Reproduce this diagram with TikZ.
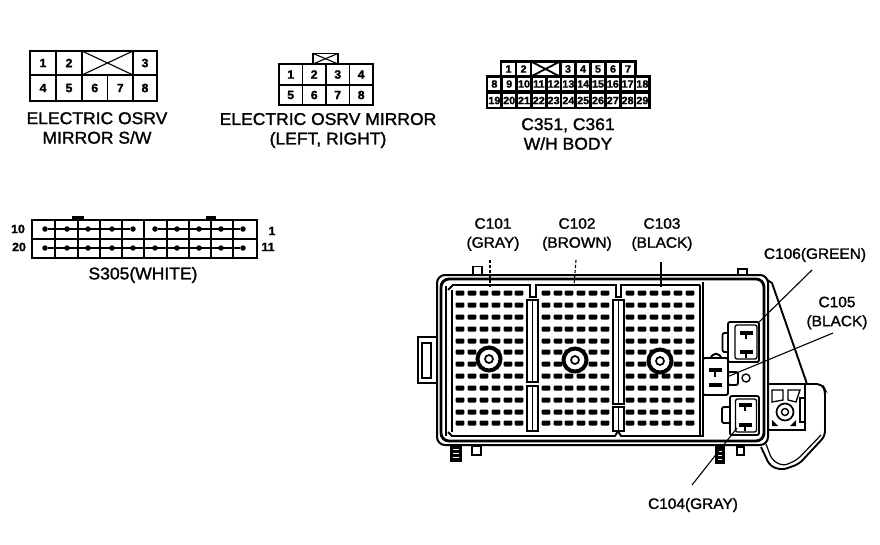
\documentclass[tikz,border=0pt]{standalone}
\usepackage{fontspec}
\setmainfont{Liberation Sans}[FakeStretch=1.03,FakeBold=1.4]
\usetikzlibrary{positioning, calc}
\tikzstyle{pincell} = [rectangle, draw=black, line width=1.8pt, outer sep=0pt, inner sep=0pt, minimum width=26pt, minimum height=24pt, font=\fontsize{12}{12}\selectfont\bfseries]
\tikzstyle{wirecell} = [rectangle, draw=black, line width=2.7pt, outer sep=0pt, inner sep=0pt, minimum width=14.8pt, minimum height=15pt, font=\fontsize{10.5}{10.5}\selectfont\bfseries]
\tikzstyle{caption} = [align=center, font=\fontsize{17}{19.5}\selectfont]
\tikzstyle{tag} = [align=center, font=\fontsize{15}{19}\selectfont]
\tikzstyle{pinno} = [inner sep=0pt, font=\fontsize{12}{12}\selectfont\bfseries]
\tikzstyle{pinmark} = [rectangle, rounded corners=1pt, fill=black, inner sep=0pt, minimum width=8.6pt, minimum height=5pt]
\tikzstyle{dot} = [circle, fill=black, inner sep=0pt, minimum size=5.5pt]
\tikzstyle{shell} = [rectangle, rounded corners=2pt, draw=black, line width=1.9pt, fill=white, inner sep=0pt, outer sep=0pt]
\tikzstyle{blade} = [rectangle, fill=black, inner sep=0pt, minimum width=13pt, minimum height=4pt]
\tikzstyle{stem} = [rectangle, fill=black, inner sep=0pt, minimum width=2pt, minimum height=8pt]
\tikzstyle{leader} = [line width=1.1pt]
\tikzstyle{wall} = [line width=2pt, rounded corners=8pt]
\tikzstyle{divider} = [draw=black, line width=1.9pt, fill=white]
\tikzstyle{tabbox} = [draw=black, line width=1.9pt, fill=white]
\begin{document}
\begin{tikzpicture}[x=1pt, y=-1pt]
    \useasboundingbox (0,0) rectangle (880,544);

    % Mirror switch connector
    \node[pincell] (sw1) at (43,63) {1};
    \node[pincell, right=0pt of sw1] (sw2) {2};
    \node[pincell, right=0pt of sw2, minimum width=51pt] (swx) {};
    \node[pincell, right=0pt of swx, minimum width=24pt] (sw3) {3};
    \node[pincell, below=0pt of sw1, minimum height=26pt] (sw4) {4};
    \node[pincell, right=0pt of sw4, minimum height=26pt] (sw5) {5};
    \node[pincell, right=0pt of sw5, minimum height=26pt, minimum width=25.5pt] (sw6) {6};
    \node[pincell, right=0pt of sw6, minimum height=26pt, minimum width=25.5pt] (sw7) {7};
    \node[pincell, right=0pt of sw7, minimum height=26pt, minimum width=24pt] (sw8) {8};
    \draw[leader] (swx.north west) -- (swx.south east);
    \draw[leader] (swx.north east) -- (swx.south west);
    \node[caption] (swlabel) at (97,128) {ELECTRIC OSRV\\MIRROR S/W};

    % Mirror connector
    \node[pincell, minimum width=23.5pt, minimum height=21pt] (mr1) at (290.7,74.5) {1};
    \node[pincell, right=0pt of mr1, minimum width=23.5pt, minimum height=21pt] (mr2) {2};
    \node[pincell, right=0pt of mr2, minimum width=23.5pt, minimum height=21pt] (mr3) {3};
    \node[pincell, right=0pt of mr3, minimum width=23.5pt, minimum height=21pt] (mr4) {4};
    \node[pincell, below=0pt of mr1, minimum width=23.5pt, minimum height=20pt] (mr5) {5};
    \node[pincell, right=0pt of mr5, minimum width=23.5pt, minimum height=20pt] (mr6) {6};
    \node[pincell, right=0pt of mr6, minimum width=23.5pt, minimum height=20pt] (mr7) {7};
    \node[pincell, right=0pt of mr7, minimum width=23.5pt, minimum height=20pt] (mr8) {8};
    \node[pincell, minimum width=25pt, minimum height=10.5pt] (mrtab) at (325.5,58.7) {};
    \draw[leader] (mrtab.north west) -- (mrtab.south east);
    \draw[leader] (mrtab.north east) -- (mrtab.south west);
    \node[caption] (mrlabel) at (328,130.5) {ELECTRIC OSRV MIRROR\\(LEFT, RIGHT)};

    % Wiring harness body connector
    \foreach \n [count=\i from 0] in {1,2} {
        \node[wirecell] (w\n) at ({508.5+\i*15},69) {\n};
    }
    \node[wirecell, minimum width=29pt] (wx) at (545.5,69) {};
    \draw[line width=1.8pt] (wx.north west) -- (wx.south east);
    \draw[line width=1.8pt] (wx.north east) -- (wx.south west);
    \foreach \n [count=\i from 0] in {3,4,5,6,7} {
        \node[wirecell] (w\n) at ({568+\i*15},69) {\n};
    }
    \foreach \n [count=\i from 0] in {8,...,18} {
        \node[wirecell] (w\n) at ({494.4+\i*14.8},84) {\n};
    }
    \foreach \n [count=\i from 0] in {19,...,29} {
        \node[wirecell] (w\n) at ({494.4+\i*14.8},100.5) {\n};
    }
    \node[caption] (wlabel) at (568,134) {C351, C361\\W/H BODY};

    % S305 connector
    \node[tabbox, fill=black, minimum width=10pt, minimum height=3pt, inner sep=0pt] (stab1) at (78,218) {};
    \node[tabbox, fill=black, minimum width=8pt, minimum height=3pt, inner sep=0pt] (stab2) at (211,218) {};
    \node[rectangle, draw=black, line width=2.4pt, minimum width=225pt, minimum height=38pt, outer sep=0pt] (s305) at (144.5,239) {};
    \draw[line width=2.2pt] (s305.west) -- (s305.east);
    \foreach \x in {55,78,100,122,167,189,211,233} {
        \draw[leader] (\x,220) -- (\x,258);
    }
    \draw[line width=2.2pt] (144,220) -- (144,258);
    \foreach \x in {45,67,88,112,133} {
        \node[dot] (st\x) at (\x,229) {};
    }
    \foreach \x in {155,177,199,221,243} {
        \node[dot] (st\x) at (\x,229) {};
    }
    \foreach \x in {45,67,88,112,133,155,177,199,221,243} {
        \node[dot] (sb\x) at (\x,248) {};
    }
    \draw[leader] (st45) -- (st133);
    \draw[leader] (st155) -- (st243);
    \draw[leader] (sb45) -- (sb243);
    \node[pinno] (s10) at (18,229) {10};
    \node[pinno] (s20) at (19,247) {20};
    \node[pinno] (s1) at (272,231) {1};
    \node[pinno] (s11) at (268,247) {11};
    \node[caption] (slabel) at (143,275) {S305(WHITE)};

    % Tabs round the box
    \node[tabbox, minimum width=19pt, minimum height=46pt, outer sep=0pt] (ltab) at (427.5,360) {};
    \draw[line width=1.4pt] (422,343) rectangle (431,378);
    \node[tabbox, minimum width=9pt, minimum height=9pt, inner sep=0pt] (ttab1) at (477.5,271) {};
    \node[tabbox, minimum width=9pt, minimum height=10pt, inner sep=0pt] (ttab2) at (742.5,274) {};
    \node[tabbox, fill=black, minimum width=10pt, minimum height=16pt, inner sep=0pt] (btab1) at (456,453) {};
    \node[tabbox, minimum width=9pt, minimum height=9pt, inner sep=0pt] (btab2) at (476.5,450.5) {};
    \node[tabbox, fill=black, minimum width=8pt, minimum height=16pt, inner sep=0pt] (btab3) at (720,455) {};
    \node[tabbox, minimum width=7pt, minimum height=8pt, inner sep=0pt] (btab4) at (740.5,451) {};
    \foreach \sy in {449,453,457} {
        \draw[white, line width=0.9pt] (453,\sy) -- (459,\sy);
        \draw[white, line width=0.9pt] (718,{\sy+2}) -- (722,{\sy+2});
    }

    % Bracket on the right
    \draw[wall, rounded corners=5pt, line width=1.9pt] (768,384) -- (822,384) -- (825,390) -- (825,436) -- (799,464) -- (782,470) -- (770,466) -- (761,447);
    \draw[wall, rounded corners=5pt, line width=1.2pt] (766,444) -- (772,460) -- (783,466) -- (797,460) -- (821,435);
    \draw[line width=1.9pt] (764,278) -- (772,283) -- (807,384);
    \draw[line width=1.9pt] (768,430) -- (805,430) -- (805,385);
    \draw[line width=1.4pt] (800,398) rectangle (805,422);
    \draw[line width=1.3pt] (772,390) -- (783,390) -- (783,400) -- (772,402) -- cycle;
    \draw[line width=1.3pt] (788,390) -- (800,390) -- (796,402) -- (788,400) -- cycle;
    \fill (772,426) -- (772,420) -- (778,426) -- cycle;
    \fill (796,426) -- (796,420) -- (790,426) -- cycle;
    \node[circle, draw=black, line width=1.7pt, minimum size=17pt, inner sep=0pt] (bkt) at (785,412) {};
    \node[circle, draw=black, line width=1.4pt, minimum size=7pt, inner sep=0pt] (bktin) at (785,412) {};

    % Box walls
    \draw[wall, fill=white] (437,275) rectangle (768,445);
    \draw[wall, line width=2.8pt] (441,279) rectangle (764,441);
    \draw[line width=1.9pt] (448,290) -- (453,285) -- (527,285) -- (530,285) -- (530,297) -- (536,297) -- (536,285) -- (616,285) -- (616,297) -- (621,297) -- (621,285) -- (700,285);
    \draw[line width=1.9pt] (448,432) -- (452,436) -- (615,436) -- (618,431) -- (621,436) -- (703,436);
    \draw[line width=2.4pt] (452,290) -- (452,432);
    \draw[line width=1.6pt] (446,286) -- (446,436);
    \draw[line width=2.2pt] (700,285) -- (700,436);
    \draw[leader] (703,282) -- (703,437);

    % Dividers between the blocks
    \foreach \x/\ya/\yb in {527/300/382, 527/386/431, 613/300/404, 613/407/431} {
        \draw[divider] (\x,\ya) rectangle ({\x+11},\yb);
        \draw[leader] ({\x+5.5},\ya) -- ({\x+5.5},\yb);
    }

    % Terminals of the three blocks
    \foreach \px in {460,472,484,496,508,519, 546,558,569,581,593,605, 630,642,654,666,678,690} {
        \foreach \py in {293,305,317,329,341,352,364,376,388,400,412,423} {
            \node[pinmark] (pin-\px-\py) at (\px,\py) {};
        }
    }

    % Bolts
    \foreach \bx/\by/\bname in {489/359/bolta, 575/360/boltb, 660/361/boltc} {
        \node[circle, draw=black, fill=white, line width=4pt, minimum size=23pt, inner sep=0pt] (\bname) at (\bx,\by) {};
        \node[circle, draw=black, line width=1.7pt, minimum size=8pt, inner sep=0pt] (\bname in) at (\bx,\by) {};
    }

    % C106
    \node[shell, minimum width=13pt, minimum height=19pt] (c106side) at (729,342.5) {};
    \node[shell, minimum width=31pt, minimum height=40pt] (c106box) at (743.5,342) {};
    \node[shell, minimum width=22pt, minimum height=34pt, line width=1.3pt] (c106in) at (746,342) {};
    \node[blade] (c106a) at (746,333) {};
    \node[stem] (c106c) at (746,335) {};
    \node[blade] (c106b) at (746,352) {};
    \node[stem] (c106d) at (746,354) {};

    % C105
    \draw[line width=1.9pt, fill=white] (710,359) .. controls (713,352) and (719,352) .. (722,359);
    \node[shell, minimum width=10pt, minimum height=13pt] (c105side) at (733,378.5) {};
    \node[shell, minimum width=25pt, minimum height=37pt] (c105box) at (715.5,376.5) {};
    \node[blade] (c105a) at (715,370) {};
    \node[stem] (c105c) at (715,373) {};
    \node[blade] (c105b) at (715,385) {};
    \node[circle, draw=black, line width=1.4pt, minimum size=8pt, inner sep=0pt] (c105hole) at (746,378) {};

    % C104
    \node[shell, minimum width=13pt, minimum height=16pt] (c104side) at (728.5,415) {};
    \node[shell, minimum width=29pt, minimum height=39pt] (c104box) at (744.5,415.5) {};
    \node[shell, minimum width=21pt, minimum height=33pt, line width=1.3pt] (c104in) at (746,415.5) {};
    \node[blade] (c104a) at (745,405) {};
    \node[stem] (c104c) at (745,407) {};
    \node[blade] (c104b) at (745,425) {};
    \node[stem] (c104d) at (745,427) {};

    % Labels
    \node[tag] (c101label) at (493,234.5) {C101\\(GRAY)};
    \node[tag] (c102label) at (577,234.5) {C102\\(BROWN)};
    \node[tag] (c103label) at (662,234.5) {C103\\(BLACK)};
    \node[tag] (c106label) at (815,255) {C106(GREEN)};
    \node[tag] (c105label) at (837,313) {C105\\(BLACK)};
    \node[tag] (c104label) at (693,505) {C104(GRAY)};

    % Leaders
    \coordinate (c101from) at (490,260);
    \coordinate (c101tip) at (490,287);
    \coordinate (c102from) at (576,260);
    \coordinate (c102tip) at (574,286);
    \coordinate (c103from) at (661,262);
    \coordinate (c103tip) at (661,287);
    \coordinate (c106from) at (812,270);
    \coordinate (c105from) at (833,333);
    \coordinate (c104from) at (692,485);
    \coordinate (c104tip) at (737,428);
    \draw[leader, densely dashed] (c101from) -- (c101tip);
    \draw[leader, densely dashed] (c102from) -- (c102tip);
    \draw[leader] (c103from) -- (c103tip);
    \draw[leader] (c106from) -- (c106box.north east);
    \draw[leader] (c105from) -- (c105box.east);
    \draw[leader] (c104from) -- (c104tip);
\end{tikzpicture}
\end{document}
